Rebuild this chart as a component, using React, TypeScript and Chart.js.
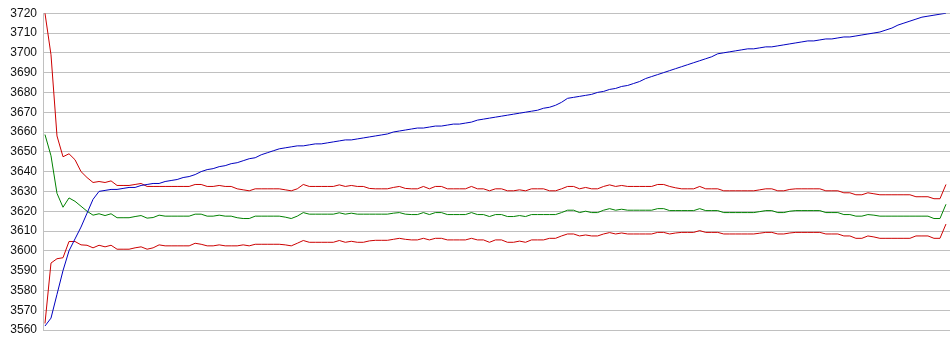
import React, { useEffect, useRef } from "react";
import { Chart, registerables } from "chart.js";

Chart.register(...registerables);

const yTicksMin = 3560;
const yTicksMax = 3720;
const yTickStep = 10;

const blueSeries = [
  3562, 3566, 3578, 3590, 3600, 3606, 3612, 3619, 3626, 3630,
  3630.5, 3631, 3631, 3631.5, 3632, 3632, 3633, 3633.5, 3634, 3634,
  3635, 3635.5, 3636, 3637, 3637.5, 3638.5, 3640, 3641, 3641.5, 3642.5,
  3643, 3644, 3644.5, 3645.5, 3646.5, 3647, 3648.5, 3649.5, 3650.5, 3651.5,
  3652, 3652.5, 3653, 3653, 3653.5, 3654, 3654, 3654.5, 3655, 3655.5,
  3656, 3656, 3656.5, 3657, 3657.5, 3658, 3658.5, 3659, 3660, 3660.5,
  3661, 3661.5, 3662, 3662, 3662.5, 3663, 3663, 3663.5, 3664, 3664,
  3664.5, 3665, 3666, 3666.5, 3667, 3667.5, 3668, 3668.5, 3669, 3669.5,
  3670, 3670.5, 3671, 3672, 3672.5, 3673.5, 3675, 3677, 3677.5, 3678,
  3678.5, 3679, 3680, 3680.5, 3681.5, 3682, 3683, 3683.5, 3684.5, 3685.5,
  3687, 3688, 3689, 3690, 3691, 3692, 3693, 3694, 3695, 3696,
  3697, 3698, 3699.5, 3700, 3700.5, 3701, 3701.5, 3702, 3702, 3702.5,
  3703, 3703, 3703.5, 3704, 3704.5, 3705, 3705.5, 3706, 3706, 3706.5,
  3707, 3707, 3707.5, 3708, 3708, 3708.5, 3709, 3709.5, 3710, 3710.5,
  3711.5, 3712.5, 3714, 3715, 3716, 3717, 3718, 3718.5, 3719, 3719.5,
  3720,
];

const upperSeries = [
  3720, 3699, 3658, 3647.5, 3649, 3646, 3640, 3637, 3634.5, 3635,
  3634.5, 3635.3, 3633, 3633, 3633, 3633.5, 3634, 3632.5, 3632.5, 3632.5,
  3632.5, 3632.5, 3632.5, 3632.5, 3632.5, 3633.5, 3633.5, 3632.5, 3632.5, 3633,
  3632.5, 3632.5, 3631.3, 3630.8, 3630.3, 3631.3, 3631.3, 3631.3, 3631.3, 3631.3,
  3630.8, 3630.3, 3631.3, 3633.5, 3632.5, 3632.5, 3632.5, 3632.5, 3632.5, 3633.3,
  3632.5, 3633, 3632.5, 3632.5, 3631.5, 3631.3, 3631.3, 3631.3, 3632, 3632.5,
  3631.5, 3631.3, 3631.3, 3632.5, 3631.3, 3632.5, 3632.5, 3631.3, 3631.3, 3631.3,
  3631.3, 3632.5, 3631.3, 3631.3, 3630.3, 3631.3, 3631.3, 3630.3, 3630.3, 3630.8,
  3630.3, 3631.3, 3631.3, 3631.3, 3630.3, 3630.3, 3631.3, 3632.5, 3632.5, 3631.3,
  3632, 3631.3, 3631.3, 3632.5, 3633.3, 3632.5, 3633, 3632.5, 3632.5, 3632.5,
  3632.5, 3632.5, 3633.5, 3633.5, 3632.5, 3631.8, 3631.3, 3631.3, 3631.3, 3632.5,
  3631.3, 3631.3, 3631.3, 3630.3, 3630.3, 3630.3, 3630.3, 3630.3, 3630.3, 3630.8,
  3631.3, 3631.3, 3630.3, 3630.3, 3631, 3631.3, 3631.3, 3631.3, 3631.3, 3631.3,
  3630.3, 3630.3, 3630.3, 3629.3, 3629.3, 3628.3, 3628.3, 3629.3, 3628.8, 3628.3,
  3628.3, 3628.3, 3628.3, 3628.3, 3628.3, 3627.3, 3627.3, 3627.3, 3626.3, 3626.3,
  3633.5,
];

const middleSeries = [
  3658.7, 3648, 3629, 3622, 3626.7, 3625, 3622.5, 3620, 3618, 3618.7,
  3617.8, 3618.7, 3616.7, 3616.7, 3616.7, 3617.3, 3617.8, 3616.5, 3616.8, 3618,
  3617.5, 3617.5, 3617.5, 3617.5, 3617.5, 3618.5, 3618.5, 3617.5, 3617.5, 3618,
  3617.5, 3617.5, 3616.7, 3616.3, 3616.3, 3617.5, 3617.5, 3617.5, 3617.5, 3617.5,
  3617, 3616.3, 3617.5, 3619.3, 3618.5, 3618.5, 3618.5, 3618.5, 3618.5, 3619.2,
  3618.5, 3619, 3618.5, 3618.5, 3618.5, 3618.5, 3618.5, 3618.5, 3619, 3619.3,
  3618.5, 3618.3, 3618.3, 3619.3, 3618.3, 3619.3, 3619.3, 3618.3, 3618.3, 3618.3,
  3618.3, 3619.3, 3618.3, 3618.3, 3617.3, 3618.3, 3618.3, 3617.3, 3617.3, 3617.8,
  3617.3, 3618.3, 3618.3, 3618.3, 3618.3, 3618.3, 3619.3, 3620.5, 3620.5, 3619.3,
  3620, 3619.3, 3619.3, 3620.5, 3621.3, 3620.5, 3621, 3620.5, 3620.5, 3620.5,
  3620.5, 3620.5, 3621.3, 3621.3, 3620.3, 3620.3, 3620.3, 3620.3, 3620.3, 3621.3,
  3620.3, 3620.3, 3620.3, 3619.3, 3619.3, 3619.3, 3619.3, 3619.3, 3619.3, 3619.8,
  3620.3, 3620.3, 3619.3, 3619.3, 3620, 3620.3, 3620.3, 3620.3, 3620.3, 3620.3,
  3619.3, 3619.3, 3619.3, 3618.3, 3618.3, 3617.5, 3617.5, 3618.3, 3618, 3617.5,
  3617.5, 3617.5, 3617.5, 3617.5, 3617.5, 3617.5, 3617.5, 3617.5, 3616.3, 3616.3,
  3623.5,
];

const lowerSeries = [
  3563.3, 3593.8, 3596, 3596.5, 3604.7, 3604.7, 3603, 3602.8, 3601.5, 3602.8,
  3602, 3602.8, 3600.8, 3600.8, 3600.8, 3601.5, 3602, 3600.8, 3601.5, 3603,
  3602.5, 3602.5, 3602.5, 3602.5, 3602.5, 3603.8, 3603.3, 3602.5, 3602.5, 3603,
  3602.5, 3602.5, 3602.5, 3603, 3602.5, 3603.3, 3603.3, 3603.3, 3603.3, 3603.3,
  3603, 3602.5, 3603.8, 3605.2, 3604.3, 3604.3, 3604.3, 3604.3, 3604.3, 3605.2,
  3604.3, 3604.8, 3604.3, 3604.3, 3605, 3605.3, 3605.3, 3605.3, 3605.8, 3606.3,
  3605.8, 3605.5, 3605.5, 3606.3, 3605.5, 3606.3, 3606.3, 3605.5, 3605.5, 3605.5,
  3605.5, 3606.3, 3605.5, 3605.5, 3604.3, 3605.5, 3605.5, 3604.3, 3604.3, 3604.9,
  3604.3, 3605.5, 3605.5, 3605.5, 3606.3, 3606.3, 3607.5, 3608.5, 3608.5, 3607.5,
  3608, 3607.5, 3607.5, 3608.5, 3609.2, 3608.5, 3609, 3608.5, 3608.5, 3608.5,
  3608.5, 3608.5, 3609.3, 3609.3, 3608.5, 3609, 3609.3, 3609.3, 3609.3, 3610.2,
  3609.3, 3609.3, 3609.3, 3608.5, 3608.5, 3608.5, 3608.5, 3608.5, 3608.5, 3608.9,
  3609.3, 3609.3, 3608.5, 3608.5, 3609, 3609.3, 3609.3, 3609.3, 3609.3, 3609.3,
  3608.5, 3608.5, 3608.5, 3607.5, 3607.5, 3606.3, 3606.3, 3607.5, 3607, 3606.3,
  3606.3, 3606.3, 3606.3, 3606.3, 3606.3, 3607.5, 3607.5, 3607.5, 3606.3, 3606.3,
  3613.5,
];

const sampleIndex = blueSeries.map((_, i) => i);

export default function App() {
  const canvasRef = useRef<HTMLCanvasElement | null>(null);

  useEffect(() => {
    const canvas = canvasRef.current;
    if (!canvas) return;
    const chart = new Chart(canvas, {
      type: "line",
      data: {
        labels: sampleIndex,
        datasets: [
          { data: blueSeries, borderColor: "#0000c0", borderWidth: 1, pointRadius: 0, tension: 0 },
          { data: upperSeries, borderColor: "#cc0000", borderWidth: 1, pointRadius: 0, tension: 0 },
          { data: middleSeries, borderColor: "#008000", borderWidth: 1, pointRadius: 0, tension: 0 },
          { data: lowerSeries, borderColor: "#cc0000", borderWidth: 1, pointRadius: 0, tension: 0 },
        ],
      },
      options: {
        animation: false,
        responsive: false,
        devicePixelRatio: 1,
        layout: { padding: { top: 10, bottom: 25, left: 0, right: 0 } },
        plugins: { legend: { display: false }, tooltip: { enabled: false } },
        scales: {
          x: {
            type: "linear",
            display: false,
            min: -0.33,
            max: sampleIndex.length - 1 + 0.67,
          },
          y: {
            min: yTicksMin,
            max: yTicksMax,
            afterFit: (s: any) => {
              s.width = 43;
            },
            ticks: {
              stepSize: yTickStep,
              padding: 6,
              color: "#111",
              font: { family: "Arial, 'Liberation Sans', sans-serif", size: 12 },
              callback: (v: any) => String(v),
            },
            grid: { color: "#c0c0c0", drawTicks: false, lineWidth: 1 },
            border: { color: "#c0c0c0", width: 1 },
          },
        },
      },
    });
    return () => chart.destroy();
  }, []);

  return (
    <div style={{ position: "absolute", left: 0, top: 0, width: 950, height: 355, background: "#fff" }}>
      <canvas ref={canvasRef} width={950} height={355} style={{ width: 950, height: 355 }} />
    </div>
  );
}
